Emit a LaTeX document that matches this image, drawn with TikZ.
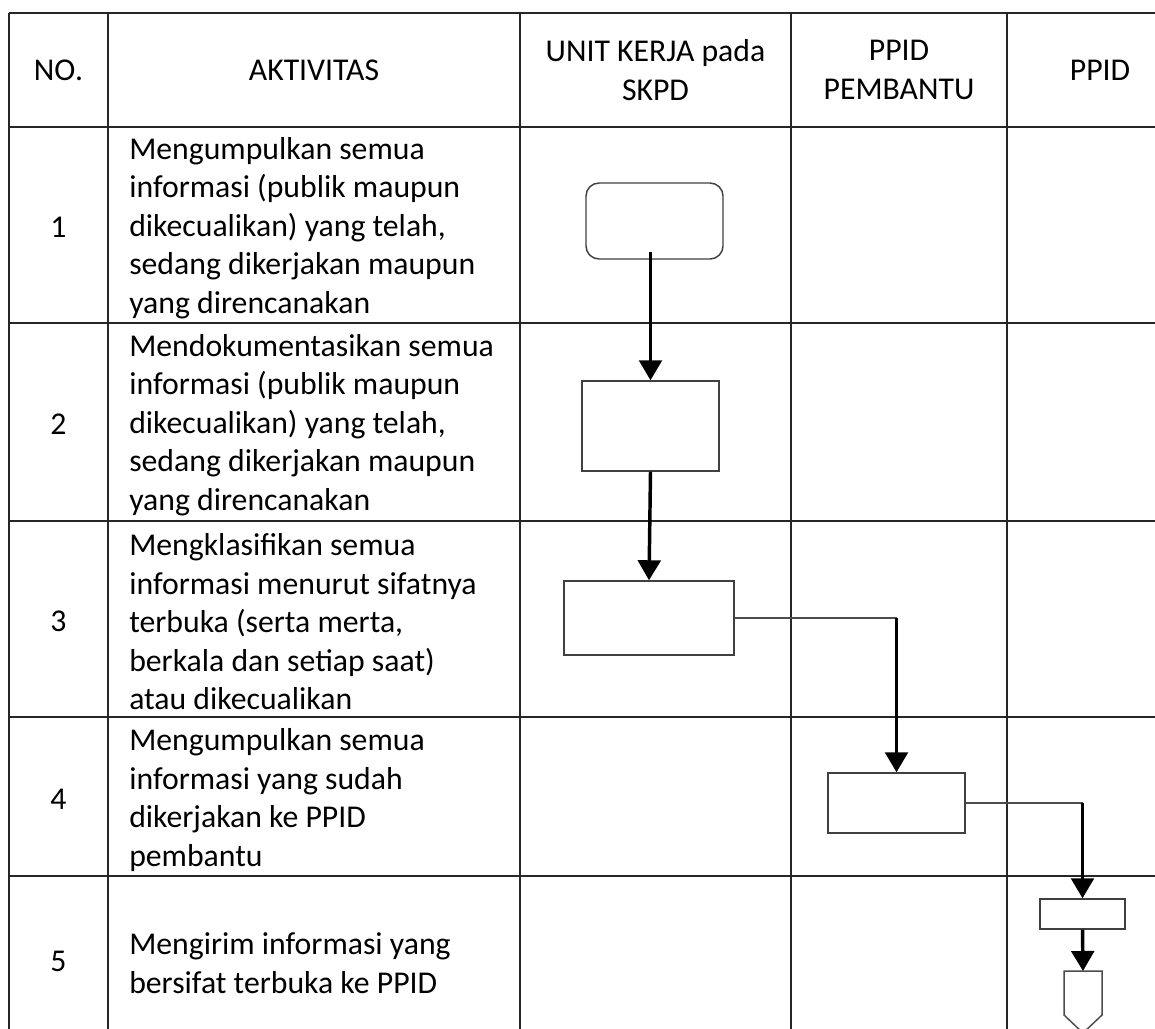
\documentclass[tikz,border=0pt]{standalone}
\usepackage{fontspec}
\setmainfont{Carlito}
\usetikzlibrary{arrows.meta}

\begin{document}
\begin{tikzpicture}[x=0.75pt,y=0.75pt,yscale=-1,xscale=1,
  grid/.style={line width=1.3pt,color=black!85},
  box/.style={draw=black!75,line width=1.1pt,inner sep=0pt},
  flow/.style={line width=2.6pt,-{Triangle[width=17pt,length=15pt]}},
  link/.style={draw=black!70,line width=1.1pt},
  txt/.style={inner sep=0pt,align=left,anchor=west,font=\fontsize{23.8}{28.9}\selectfont},
  head/.style={inner sep=0pt,align=center,font=\fontsize{23.8}{28.9}\selectfont}]
\useasboundingbox (0,0) rectangle (1155,1028);
\clip (0,0) rectangle (1155,1028);

%Straight Lines (rows)
\draw[grid] (9,13) -- (1200,13) ;
\draw[grid] (9,127) -- (1200,127) ;
\draw[grid] (9,323) -- (1200,323) ;
\draw[grid] (9,521) -- (1200,521) ;
\draw[grid] (9,717) -- (1200,717) ;
\draw[grid] (9,876) -- (1200,876) ;
%Straight Lines (columns)
\draw[grid] (9,13) -- (9,1060) ;
\draw[grid] (108,13) -- (108,1060) ;
\draw[grid] (520,13) -- (520,1060) ;
\draw[grid] (791,13) -- (791,1060) ;
\draw[grid] (1007,13) -- (1007,1060) ;

% Text Node
\draw (58.5,70) node [head] (hno) {NO.};
% Text Node
\draw (314,70) node [head] (hakt) {AKTIVITAS};
% Text Node
\draw (655.5,70) node [head] (hunit) {UNIT KERJA pada\\SKPD};
% Text Node
\draw (899,70) node [head] (hpemb) {PPID\\PEMBANTU};
% Text Node
\draw (1100,70) node [head] (hppid) {PPID};

% Text Node
\draw (58.5,227) node [head] (no1) {1};
% Text Node
\draw (58.5,424) node [head] (no2) {2};
% Text Node
\draw (58.5,621) node [head] (no3) {3};
% Text Node
\draw (58.5,799) node [head] (no4) {4};
% Text Node
\draw (58.5,961) node [head] (no5) {5};

% Text Node
\draw (129,228) node [txt] (akt1) {Mengumpulkan semua\\informasi (publik maupun\\dikecualikan) yang telah,\\sedang dikerjakan maupun\\yang direncanakan};
% Text Node
\draw (129,425) node [txt] (akt2) {Mendokumentasikan semua\\informasi (publik maupun\\dikecualikan) yang telah,\\sedang dikerjakan maupun\\yang direncanakan};
% Text Node
\draw (129,622) node [txt] (akt3) {Mengklasifikan semua\\informasi menurut sifatnya\\terbuka (serta merta,\\berkala dan setiap saat)\\atau dikecualikan};
% Text Node
\draw (129,800) node [txt] (akt4) {Mengumpulkan semua\\informasi yang sudah\\dikerjakan ke PPID\\pembantu};
% Text Node
\draw (129,963) node [txt] (akt5) {Mengirim informasi yang\\bersifat terbuka ke PPID};

%Rounded Rect
\draw (654.5,221) node [box,rounded corners=9.75pt,minimum width=102.75pt,minimum height=57pt] (kumpul) {};
%Shape: Rectangle
\draw (650.5,426) node [box,minimum width=102.75pt,minimum height=67.5pt] (dokumen) {};
%Shape: Rectangle
\draw (649,618) node [box,minimum width=127.5pt,minimum height=55.5pt] (klasifikasi) {};
%Shape: Rectangle
\draw (896.5,803) node [box,minimum width=102.75pt,minimum height=45pt] (pembantu) {};
%Shape: Rectangle
\draw (1082.5,914) node [box,minimum width=63.75pt,minimum height=22.5pt] (kirim) {};
%Shape: Off-page connector
\coordinate (konektor) at (1083,971) ;
\draw[link] (konektor) ++(-19,0) -- ++(38,0) -- ++(0,44) -- ++(-19,18) -- ++(-19,-18) -- cycle ;

%Straight Lines (flow)
\draw[flow] (dokumen.north |- kumpul.south) ++(0,-8) -- (dokumen.north) ;
\draw[flow] (dokumen.south) -- (klasifikasi.north) ;
\draw[link] (klasifikasi.east) -- (klasifikasi.east -| pembantu.north) ;
\draw[flow] (klasifikasi.east -| pembantu.north) -- (pembantu.north) ;
\draw[link] (pembantu.east) -- (pembantu.east -| kirim.north) ;
\draw[flow] (pembantu.east -| kirim.north) -- (kirim.north) ;
\draw[flow] (kirim.south) -- (konektor) ;

\end{tikzpicture}
\end{document}
